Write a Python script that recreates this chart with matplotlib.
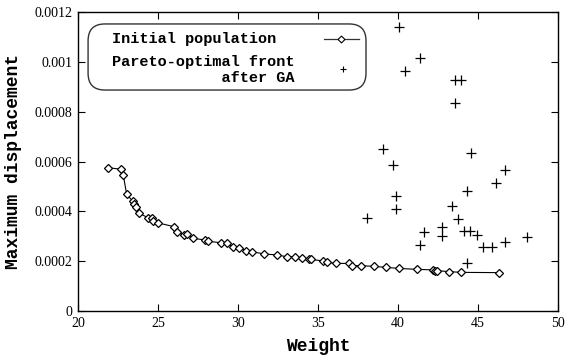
import matplotlib
matplotlib.use("Agg")
import matplotlib.pyplot as plt
from matplotlib.patches import FancyBboxPatch
from matplotlib.lines import Line2D

# Initial population (weight, maximum displacement)
init_weight = [21.89, 22.69, 22.83, 23.04, 23.42, 23.50, 23.63, 23.83, 24.39, 24.60,
               24.70, 24.98, 26.02, 26.17, 26.60, 26.80, 27.17, 27.94, 28.10, 28.94,
               29.33, 29.67, 30.08, 30.48, 30.86, 31.64, 32.42, 33.04, 33.56, 33.98,
               34.46, 34.56, 35.33, 35.54, 36.13, 36.96, 37.10, 37.69, 38.50, 39.27,
               40.06, 41.21, 42.21, 42.31, 42.42, 43.19, 43.96, 46.31]
init_disp = [0.000575, 0.000569, 0.000546, 0.000468, 0.000441, 0.000430, 0.000416, 0.000392,
             0.000374, 0.000373, 0.000361, 0.000354, 0.000338, 0.000318, 0.000306, 0.000309,
             0.000292, 0.000285, 0.000280, 0.000274, 0.000272, 0.000258, 0.000252, 0.000242,
             0.000238, 0.000229, 0.000225, 0.000218, 0.000218, 0.000211, 0.000209, 0.000207,
             0.000201, 0.000195, 0.000191, 0.000191, 0.000182, 0.000182, 0.000179, 0.000175,
             0.000171, 0.000167, 0.000165, 0.000162, 0.000162, 0.000158, 0.000155, 0.000154]

# Pareto-optimal front after GA
ga_weight = [40.08, 41.40, 40.44, 43.56, 43.94, 43.56, 39.08, 39.67, 39.85, 39.85,
             38.08, 44.54, 46.69, 46.11, 44.33, 43.39, 43.75, 41.60, 42.77, 42.77,
             44.13, 44.52, 44.94, 41.40, 45.31, 45.89, 46.69, 48.04, 44.33]
ga_disp = [0.001141, 0.001016, 0.000962, 0.000926, 0.000926, 0.000835, 0.000651, 0.000587,
           0.000463, 0.000409, 0.000374, 0.000633, 0.000565, 0.000514, 0.000483, 0.000423,
           0.000368, 0.000318, 0.000338, 0.000302, 0.000322, 0.000322, 0.000306, 0.000265,
           0.000258, 0.000258, 0.000276, 0.000298, 0.000191]

x_ticks = [20, 25, 30, 35, 40, 45, 50]
y_ticks = [0, 0.0002, 0.0004, 0.0006, 0.0008, 0.001, 0.0012]
y_tick_labels = ["0", "0.0002", "0.0004", "0.0006", "0.0008", "0.001", "0.0012"]

label_init = "Initial population"
label_ga = "Pareto-optimal front\n            after GA"

mono = "Liberation Mono"
serif = "Liberation Serif"

fig = plt.figure(figsize=(5.66, 3.58), dpi=100)
ax = fig.add_axes([78 / 566, 1 - 311 / 358, 480 / 566, 299 / 358])

ax.plot(init_weight, init_disp, color="black", lw=0.8, marker="D", markersize=4.5,
        markerfacecolor="white", markeredgecolor="black", markeredgewidth=0.9)
ax.plot(ga_weight, ga_disp, linestyle="none", marker="+", markersize=6.5,
        color="black", markeredgewidth=0.9)

ax.set_xlim(20, 50)
ax.set_ylim(0, 0.0012)
ax.set_xticks(x_ticks)
ax.set_yticks(y_ticks)
ax.set_xticklabels([str(t) for t in x_ticks], fontfamily=serif, fontsize=10)
ax.set_yticklabels(y_tick_labels, fontfamily=serif, fontsize=10)
ax.tick_params(direction="in", length=5, width=0.8, top=True, right=True, pad=4)
for s in ax.spines.values():
    s.set_linewidth(1.0)

ax.set_xlabel("Weight", fontfamily=mono, fontweight="bold", fontsize=13, labelpad=6)
ax.set_ylabel("Maximum displacement", fontfamily=mono, fontweight="bold", fontsize=13, labelpad=9)

# legend box with text on the left and samples on the right
box = FancyBboxPatch((0.021, 0.739), 0.579, 0.221, transform=ax.transAxes,
                     boxstyle="round,pad=0,rounding_size=0.035", facecolor="white",
                     edgecolor="#333333", lw=1.0, zorder=5, mutation_aspect=480 / 299)
ax.add_patch(box)
ax.text(0.0708, 0.910, label_init, transform=ax.transAxes, fontfamily=mono,
        fontweight="bold", fontsize=11, va="center", ha="left", zorder=6)
ax.text(0.0708, 0.806, label_ga, transform=ax.transAxes, fontfamily=mono,
        fontweight="bold", fontsize=11, va="center", ha="left", linespacing=1.1, zorder=6)
ax.add_line(Line2D([0.5125, 0.585], [0.910, 0.910], transform=ax.transAxes,
                   color="#333333", lw=0.9, zorder=6))
ax.add_line(Line2D([0.548], [0.910], transform=ax.transAxes, marker="D", markersize=3.5,
                   markerfacecolor="white", markeredgecolor="black",
                   markeredgewidth=0.8, zorder=7))
ax.add_line(Line2D([0.552], [0.809], transform=ax.transAxes, marker="+", markersize=5,
                   color="black", markeredgewidth=0.8, linestyle="none", zorder=7))

fig.savefig("out.png", dpi=100)
